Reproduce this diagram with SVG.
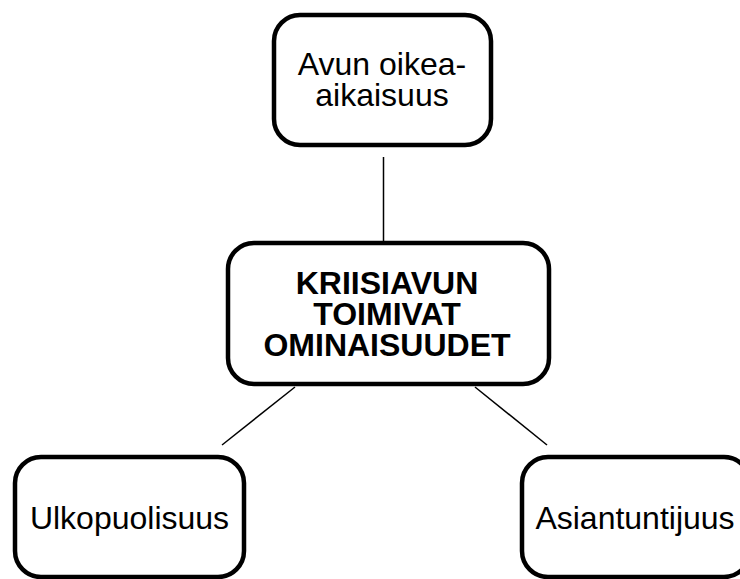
<svg xmlns="http://www.w3.org/2000/svg" width="740" height="579" viewBox="0 0 740 579">
  <style>
    .box { fill: #ffffff; stroke: #000000; stroke-width: 4.5; }
    .link { stroke: #000000; stroke-width: 1.5; fill: none; }
    .lbl { font-family: "Liberation Sans", Arial, sans-serif; font-size: 32px; fill: #000000; text-anchor: middle; }
    .bold { font-weight: bold; }
  </style>
  <rect width="740" height="579" fill="#ffffff"/>

  <g id="connectors">
    <line class="link" x1="383.5" y1="157" x2="383.5" y2="241"/>
    <line class="link" x1="295" y1="387" x2="222" y2="445"/>
    <line class="link" x1="475" y1="387" x2="547" y2="445"/>
  </g>

  <g id="node-timing">
    <rect class="box" x="274" y="15" width="217" height="130" rx="26"/>
    <text class="lbl"><tspan x="382" y="75">Avun oikea-</tspan><tspan x="382" y="106">aikaisuus</tspan></text>
  </g>

  <g id="node-center">
    <rect class="box" x="228" y="243" width="321" height="141" rx="26"/>
    <text class="lbl bold"><tspan x="387" y="294">KRIISIAVUN</tspan><tspan x="387" y="325">TOIMIVAT</tspan><tspan x="387" y="356">OMINAISUUDET</tspan></text>
  </g>

  <g id="node-outsider">
    <rect class="box" x="15" y="457" width="229" height="120" rx="26"/>
    <text class="lbl" x="129.5" y="529">Ulkopuolisuus</text>
  </g>

  <g id="node-expertise">
    <rect class="box" x="522" y="457" width="228" height="120" rx="26"/>
    <text class="lbl" x="635" y="529">Asiantuntijuus</text>
  </g>
</svg>
